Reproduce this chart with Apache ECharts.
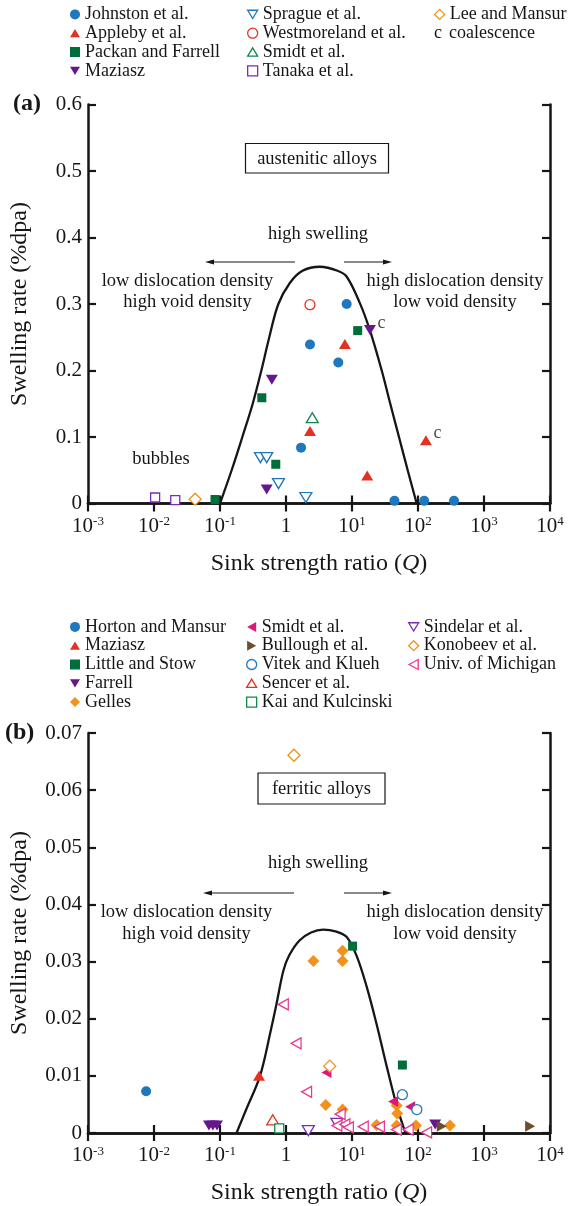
<!DOCTYPE html>
<html>
<head>
<meta charset="utf-8">
<script src="https://cdn.jsdelivr.net/npm/echarts@6/dist/echarts.min.js"></script>
<style>
  html, body { margin: 0; padding: 0; background: #ffffff; }
  #chart { width: 573px; height: 1206px; }
</style>
</head>
<body>
<div id="chart"></div>
<script>
// ---------- Panel (a): austenitic alloys — [Q, swelling rate %/dpa] ----------
const johnston     = [[1.69, 0.084], [2.31, 0.239], [8.3, 0.300], [6.2, 0.212], [44, 0.004], [124, 0.004], [351, 0.004]];
const appleby      = [[7.8, 0.240], [2.31, 0.109], [17, 0.042], [132, 0.095]];
const packan       = [[0.084, 0.006], [0.43, 0.159], [0.70, 0.059], [12.2, 0.260]];
const maziaszA     = [[0.61, 0.186], [0.51, 0.021], [18.7, 0.261]];
const sprague      = [[0.41, 0.069], [0.51, 0.069], [0.77, 0.030], [2.0, 0.009]];
const westmoreland = [[2.31, 0.299]];
const smidtA       = [[2.5, 0.129]];
const tanaka       = [[0.0104, 0.009], [0.021, 0.005]];
const leeMansur    = [[0.042, 0.0065]];
const coalescence  = [[18.7, 0.261], [132, 0.095]];
// swelling envelope, austenitic
const curveA = [[0.1, 0], [0.150, 0.05], [0.218, 0.10], [0.313, 0.15], [0.423, 0.20], [0.558, 0.25],
                [0.766, 0.30], [1.15, 0.332], [1.78, 0.350], [3.27, 0.356], [6.03, 0.350], [8.32, 0.341],
                [13.2, 0.301], [18.6, 0.261], [28.2, 0.20], [38.0, 0.15], [51.5, 0.10], [69.8, 0.05], [95.5, 0]];

// ---------- Panel (b): ferritic alloys ----------
const horton     = [[0.0076, 0.0073]];
const maziaszB   = [[0.39, 0.0100]];
const littleStow = [[10.2, 0.0327], [58, 0.0119]];
const farrell    = [[0.068, 0.0013], [0.078, 0.0013], [0.090, 0.0013], [182, 0.0015]];
const gelles     = [[2.6, 0.0301], [7.2, 0.0319], [7.2, 0.0301], [4.0, 0.0049], [7.2, 0.0041], [23.6, 0.0014],
                    [47.5, 0.0048], [48.5, 0.0034], [47.5, 0.0013], [93, 0.0013], [305, 0.0013]];
const smidtB     = [[4.1, 0.0106], [42, 0.0055], [76, 0.0046]];
const bullough   = [[229, 0.0012], [5000, 0.0012]];
const vitek      = [[58, 0.0067], [96, 0.0041]];
const sencer     = [[0.63, 0.0023]];
const kai        = [[0.79, 0.0008]];
const sindelar   = [[2.18, 0.0004], [5.9, 0.0017]];
const konobeev   = [[1.32, 0.0661], [4.6, 0.0117]];
const michigan   = [[0.91, 0.0225], [1.42, 0.0157], [2.05, 0.0072], [6.6, 0.0033], [5.9, 0.0013], [7.8, 0.0015],
                    [8.8, 0.0010], [14.8, 0.0011], [26, 0.0011], [47, 0.0006], [71, 0.0006], [135, 0.0001]];
// swelling envelope, ferritic
const curveB = [[0.178, 0], [0.251, 0.0042], [0.404, 0.0100], [0.589, 0.0180], [0.724, 0.0228], [0.912, 0.0284],
                [1.12, 0.0311], [1.6, 0.0337], [2.4, 0.0351], [3.67, 0.0356], [5.62, 0.0353], [8.32, 0.0343],
                [11.75, 0.0310], [16.6, 0.0257], [23.4, 0.0192], [33.5, 0.0117], [47.5, 0.0048], [64.6, 0]];

// tick values
const yTicksA = { min: 0, max: 0.6, step: 0.1 };
const yTicksB = { min: 0, max: 0.07, step: 0.01 };
const qRange  = { min: 0.001, max: 10000 };

const SERIF = 'Liberation Serif';
const INK = '#161616';
const C = {
  blue: '#1f77bd', red: '#e23223', green: '#006e3b', purple: '#66168f', violet: '#7b2db1',
  orange: '#f0921c', magenta: '#e0157c', pink: '#e8378f', brown: '#6b4f2c', green2: '#14874a'
};

const grids = [
  { left: 88, top: 104.5, width: 462, height: 399 },
  { left: 88, top: 733, width: 462, height: 401 }
];

function decadeLabel(v) {
  const e = Math.round(Math.log10(v));
  if (e === 0) return '1';
  return '10{sup|' + e + '}';
}

function xAxesFor(gi) {
  const common = {
    type: 'log', logBase: 10, min: qRange.min, max: qRange.max, gridIndex: gi,
    splitLine: { show: false }, minorTick: { show: false },
    axisLine: { show: true, lineStyle: { color: INK, width: 2.5 } },
    axisTick: { show: true, inside: true, length: 8, lineStyle: { color: INK, width: 2.2 } }
  };
  return [
    Object.assign({}, common, {
      position: 'bottom',
      axisLabel: {
        show: true, margin: 12, color: INK, fontFamily: SERIF, fontSize: 21,
        formatter: decadeLabel,
        rich: { sup: { fontFamily: SERIF, fontSize: 13, color: INK, verticalAlign: 'top', lineHeight: 12 } }
      },
      name: 'Sink strength ratio ({q|Q})', nameLocation: 'middle', nameGap: 48,
      nameTextStyle: {
        fontFamily: SERIF, fontSize: 24, color: INK,
        rich: { q: { fontFamily: SERIF, fontSize: 24, fontStyle: 'italic', color: INK } }
      }
    }),
    Object.assign({}, common, { position: 'top', axisLabel: { show: false } })
  ];
}

function yAxesFor(gi, t) {
  const common = {
    type: 'value', gridIndex: gi, min: t.min, max: t.max, interval: t.step,
    splitLine: { show: false },
    axisLine: { show: true, lineStyle: { color: INK, width: 2.5 } },
    axisTick: { show: true, inside: true, length: 8, lineStyle: { color: INK, width: 2.2 } }
  };
  return [
    Object.assign({}, common, {
      position: 'left',
      axisLabel: { show: true, margin: 6, color: INK, fontFamily: SERIF, fontSize: 21 },
      name: 'Swelling rate (%dpa)', nameLocation: 'middle', nameGap: 56,
      nameTextStyle: { fontFamily: SERIF, fontSize: 24, color: INK }
    }),
    Object.assign({}, common, { position: 'right', axisLabel: { show: false } })
  ];
}

// marker outlines; triangles as paths so legend icons keep their orientation
const SHAPES = {
  circle:  { symbol: 'circle', size: 10 },
  square:  { symbol: 'rect', size: 9 },
  up:      { symbol: 'path://M6,0 L12,10 L0,10 Z', size: [12, 10] },
  down:    { symbol: 'path://M0,0 L12,0 L6,10 Z', size: [12, 10] },
  left:    { symbol: 'path://M0,5.5 L10,0 L10,11 Z', size: [10, 11] },
  right:   { symbol: 'path://M10,5.5 L0,0 L0,11 Z', size: [10, 11] },
  diamond: { symbol: 'diamond', size: 12 }
};

const hollowNames = new Set();

function pts(name, data, shape, color, hollow, panel) {
  const s = SHAPES[shape];
  if (hollow) hollowNames.add(name);
  return {
    type: 'scatter', name: name, data: data,
    xAxisIndex: panel * 2, yAxisIndex: panel * 2,
    symbol: s.symbol, symbolSize: s.size, symbolKeepAspect: false,
    itemStyle: hollow
      ? { color: '#ffffff', borderColor: color, borderWidth: 1.3, opacity: 1 }
      : { color: color, borderWidth: 0, opacity: 1 },
    emphasis: { disabled: true },
    z: 3
  };
}

function envelope(data, panel) {
  return {
    type: 'line', data: data, xAxisIndex: panel * 2, yAxisIndex: panel * 2,
    smooth: 0.35, symbol: 'none',
    lineStyle: { color: INK, width: 2.3 }, emphasis: { disabled: true }, z: 2, silent: true
  };
}

const series = [
  envelope(curveA, 0),
  pts('Johnston et al.', johnston, 'circle', C.blue, false, 0),
  pts('Appleby et al.', appleby, 'up', C.red, false, 0),
  pts('Packan and Farrell', packan, 'square', C.green, false, 0),
  pts('Maziasz', maziaszA, 'down', C.purple, false, 0),
  pts('Sprague et al.', sprague, 'down', C.blue, true, 0),
  pts('Westmoreland et al.', westmoreland, 'circle', C.red, true, 0),
  pts('Smidt et al.', smidtA, 'up', C.green2, true, 0),
  pts('Tanaka et al.', tanaka, 'square', C.violet, true, 0),
  pts('Lee and Mansur', leeMansur, 'diamond', C.orange, true, 0),
  {
    type: 'scatter', name: 'coalescence', data: coalescence, xAxisIndex: 0, yAxisIndex: 0,
    symbol: 'circle', symbolSize: 1, itemStyle: { color: 'rgba(0,0,0,0)' }, z: 4, silent: true,
    label: { show: true, formatter: 'c', position: 'right', distance: 7, offset: [0, -7],
             fontFamily: SERIF, fontSize: 18, color: INK }
  },

  envelope(curveB, 1),
  pts('Horton and Mansur', horton, 'circle', C.blue, false, 1),
  pts('Maziasz|b', maziaszB, 'up', C.red, false, 1),
  pts('Little and Stow', littleStow, 'square', C.green, false, 1),
  pts('Farrell', farrell, 'down', C.purple, false, 1),
  pts('Gelles', gelles, 'diamond', C.orange, false, 1),
  pts('Smidt et al.|b', smidtB, 'left', C.magenta, false, 1),
  pts('Bullough et al.', bullough, 'right', C.brown, false, 1),
  pts('Vitek and Klueh', vitek, 'circle', C.blue, true, 1),
  pts('Sencer et al.', sencer, 'up', C.red, true, 1),
  pts('Kai and Kulcinski', kai, 'square', C.green2, true, 1),
  pts('Sindelar et al.', sindelar, 'down', C.violet, true, 1),
  pts('Konobeev et al.', konobeev, 'diamond', C.orange, true, 1),
  pts('Univ. of Michigan', michigan, 'left', C.pink, true, 1)
];

function legendCol(names, left, top) {
  return {
    data: names.map(function (n) {
      return hollowNames.has(n) ? { name: n, itemStyle: { borderWidth: 1.3 } } : { name: n };
    }),
    left: left, top: top, orient: 'vertical', padding: 0, itemGap: 0,
    itemWidth: 10, itemHeight: 10, selectedMode: false,
    formatter: function (n) { return n.split('|')[0]; },
    textStyle: { fontFamily: SERIF, fontSize: 18, color: INK, lineHeight: 18.8, padding: 0 }
  };
}

const legends = [
  legendCol(['Johnston et al.', 'Appleby et al.', 'Packan and Farrell', 'Maziasz'], 70, 5),
  legendCol(['Sprague et al.', 'Westmoreland et al.', 'Smidt et al.', 'Tanaka et al.'], 247, 5),
  legendCol(['Lee and Mansur'], 434, 5),
  legendCol(['Horton and Mansur', 'Maziasz|b', 'Little and Stow', 'Farrell', 'Gelles'], 70, 617.5),
  legendCol(['Smidt et al.|b', 'Bullough et al.', 'Vitek and Klueh', 'Sencer et al.', 'Kai and Kulcinski'], 246, 617.5),
  legendCol(['Sindelar et al.', 'Konobeev et al.', 'Univ. of Michigan'], 408, 617.5)
];

function txt(x, y, s, opts) {
  return {
    type: 'text', x: x, y: y, silent: true, z: 10,
    style: Object.assign({ text: s, fill: INK, font: '18.5px "' + SERIF + '"',
                           textAlign: 'center', textVerticalAlign: 'middle' }, opts || {})
  };
}
function arrow(x1, x2, y) {
  const dir = x2 < x1 ? -1 : 1;
  return [
    { type: 'line', silent: true, z: 10, shape: { x1: x1, y1: y, x2: x2 - dir * 6, y2: y },
      style: { stroke: INK, lineWidth: 1.2 } },
    { type: 'polygon', silent: true, z: 10,
      shape: { points: [[x2, y], [x2 - dir * 9, y - 2.6], [x2 - dir * 9, y + 2.6]] },
      style: { fill: INK } }
  ];
}
function boxed(x, y, w, h, s) {
  return [
    { type: 'rect', silent: true, z: 9, shape: { x: x, y: y, width: w, height: h },
      style: { fill: '#ffffff', stroke: INK, lineWidth: 1.2 } },
    txt(x + w / 2, y + h / 2 + 0.5, s)
  ];
}

const graphics = [].concat(
  [txt(434, 33.5, 'c', { textAlign: 'left', font: '18px "' + SERIF + '"' }),
   txt(449, 33.5, 'coalescence', { textAlign: 'left', font: '18px "' + SERIF + '"' }),
   txt(13, 104, '(a)', { textAlign: 'left', font: 'bold 24px "' + SERIF + '"' }),
   txt(5, 733, '(b)', { textAlign: 'left', font: 'bold 24px "' + SERIF + '"' })],
  // panel (a) annotations
  boxed(245.5, 143.5, 143, 29.5, 'austenitic alloys'),
  [txt(318, 234, 'high swelling'),
   txt(187.5, 281, 'low dislocation density'),
   txt(187.5, 302, 'high void density'),
   txt(455, 281, 'high dislocation density'),
   txt(455, 302, 'low void density'),
   txt(161, 459.5, 'bubbles')],
  arrow(295, 205, 262), arrow(344, 392, 262),
  // panel (b) annotations
  boxed(258, 773, 127, 31, 'ferritic alloys'),
  [txt(318, 863.5, 'high swelling'),
   txt(186.5, 912.5, 'low dislocation density'),
   txt(186.5, 934.5, 'high void density'),
   txt(455, 912.5, 'high dislocation density'),
   txt(455, 934.5, 'low void density')],
  arrow(294, 203, 893), arrow(344, 392, 893)
);

const chart = echarts.init(document.getElementById('chart'), null, { renderer: 'canvas' });
chart.setOption({
  animation: false,
  backgroundColor: '#ffffff',
  textStyle: { fontFamily: SERIF },
  grid: grids,
  xAxis: [].concat(xAxesFor(0), xAxesFor(1)),
  yAxis: [].concat(yAxesFor(0, yTicksA), yAxesFor(1, yTicksB)),
  legend: legends,
  series: series,
  graphic: graphics
});
</script>
</body>
</html>
